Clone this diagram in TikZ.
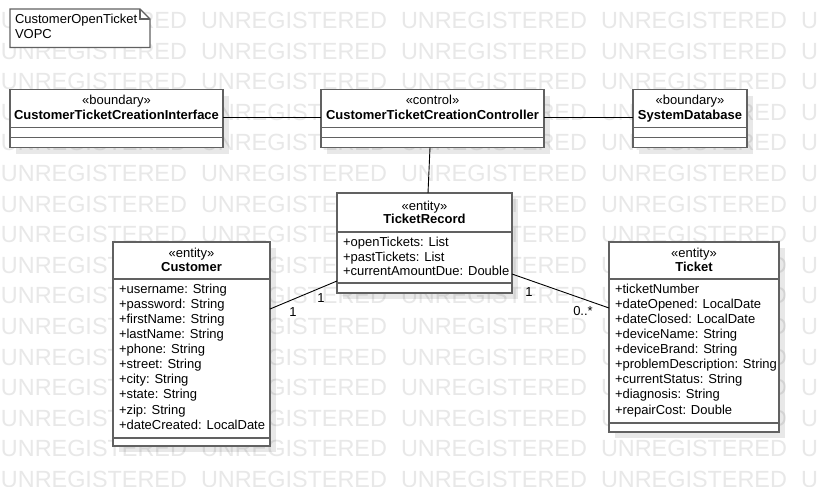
\documentclass[tikz,border=0pt]{standalone}
\usepackage{fontspec}
\setmainfont{Liberation Sans}
\usetikzlibrary{calc,shadows}
\begin{document}
\begin{tikzpicture}[x=1pt,y=-1pt,
  every node/.style={inner sep=0pt, outer sep=0pt},
  txt/.style={font=\fontsize{13}{15}\selectfont, text=black},
  bold/.style={font=\fontsize{13}{15}\selectfont\bfseries, text=black},
  classbox/.style={draw=black!62, line width=1.1pt, fill=white, rectangle, anchor=north west,
    drop shadow={shadow xshift=6pt, shadow yshift=-6pt, fill=black, opacity=0.09}},
  notebox/.style={draw=black!62, line width=1.1pt, fill=white},
  comp/.style={draw=black!62, line width=1.1pt},
  assoc/.style={draw=black, line width=0.9pt},
  mult/.style={font=\fontsize{13}{15}\selectfont, text=black},
  wm/.style={font=\fontsize{23.4}{24}\selectfont, text=black!9, anchor=base west}]

\useasboundingbox (0,0) rectangle (819,487);
\fill[white] (0,0) rectangle (819,487);

% repeated background lettering
\begin{scope}
  \clip (0,0) rectangle (819,487);
  \foreach \r in {0,...,15} {
    \foreach \c in {0,...,4} {
      \node[wm] at ({1+200*\c},{28.5+30.6*\r}) {UNREGISTERED};
    }
  }
\end{scope}

% note
\draw[notebox] (10,9) -- (140,9) -- (150,19) -- (150,47.5) -- (10,47.5) -- cycle;
\draw[comp] (140,9) -- (140,19) -- (150,19);
\node[txt, anchor=mid west] (notet1) at (15,21) {CustomerOpenTicket};
\node[txt, anchor=mid west] (notet2) at (15,35.5) {VOPC};

% class boxes
\node[classbox, minimum width=213, minimum height=58] (ctci) at (10,89.5) {};
\node[classbox, minimum width=223, minimum height=58] (ctcc) at (321,89.5) {};
\node[classbox, minimum width=114, minimum height=58] (sd) at (633,89.5) {};
\node[classbox, minimum width=175, minimum height=100] (tr) at (337,193) {};
\node[classbox, minimum width=157, minimum height=204] (cust) at (113,242) {};
\node[classbox, minimum width=170, minimum height=190] (tick) at (609,242) {};

% compartments
\foreach \b/\a/\o in {ctci/38/48, ctcc/38/48, sd/38/48, tr/39/90, cust/37/196, tick/37/181} {
  \draw[comp] ($(\b.north west)+(0,\a)$) -- ($(\b.north east)+(0,\a)$);
  \draw[comp] ($(\b.north west)+(0,\o)$) -- ($(\b.north east)+(0,\o)$);
}

% headers
\node[txt, anchor=mid] (ctcis) at (116.5,102) {«boundary»};
\node[bold, anchor=mid] (ctcin) at (116.5,117) {CustomerTicketCreationInterface};
\node[txt, anchor=mid] (ctccs) at (432.5,102) {«control»};
\node[bold, anchor=mid] (ctccn) at (432.5,117) {CustomerTicketCreationController};
\node[txt, anchor=mid] (sds) at (690,102) {«boundary»};
\node[bold, anchor=mid] (sdn) at (690,117) {SystemDatabase};
\node[txt, anchor=mid] (trs) at (424.5,207.5) {«entity»};
\node[bold, anchor=mid] (trn) at (424.5,221) {TicketRecord};
\node[txt, anchor=mid] (custs) at (191.5,254.5) {«entity»};
\node[bold, anchor=mid] (custn) at (191.5,269) {Customer};
\node[txt, anchor=mid] (ticks) at (694,254.5) {«entity»};
\node[bold, anchor=mid] (tickn) at (694,269) {Ticket};

% attributes
\foreach \t [count=\i from 0] in {+openTickets: List, +pastTickets: List, +currentAmountDue: Double}
  \node[txt, anchor=mid west] (tra\i) at (343,{244+14.5*\i}) {\t};
\foreach \t [count=\i from 0] in {+username: String, +password: String, +firstName: String,
    +lastName: String, +phone: String, +street: String, +city: String, +state: String,
    +zip: String, +dateCreated: LocalDate}
  \node[txt, anchor=mid west] (custa\i) at (119,{291+15.05*\i}) {\t};
\foreach \t [count=\i from 0] in {+ticketNumber, +dateOpened: LocalDate, +dateClosed: LocalDate,
    +deviceName: String, +deviceBrand: String, +problemDescription: String,
    +currentStatus: String, +diagnosis: String, +repairCost: Double}
  \node[txt, anchor=mid west] (ticka\i) at (615,{291+15.05*\i}) {\t};

% associations
\draw[assoc] ($(ctci.north east)+(0,28)$) -- ($(ctcc.north west)+(0,28)$);
\draw[assoc] ($(ctcc.north east)+(0,28)$) -- ($(sd.north west)+(0,28)$);
\draw[assoc] ($(ctcc.south)+(-2.5,0)$) -- ($(tr.north)+(3.5,0)$);
\draw[assoc] ($(cust.north east)+(0,67)$) -- ($(tr.south west)+(0,-12)$);
\draw[assoc] ($(tr.south east)+(0,-19)$) -- ($(tick.north west)+(0,66)$);

% multiplicities
\node[mult, anchor=mid] (m1) at (293,314) {1};
\node[mult, anchor=mid] (m2) at (321,300) {1};
\node[mult, anchor=mid] (m3) at (529,293.5) {1};
\node[mult, anchor=mid] (m4) at (583,313) {0..*};
\end{tikzpicture}
\end{document}
